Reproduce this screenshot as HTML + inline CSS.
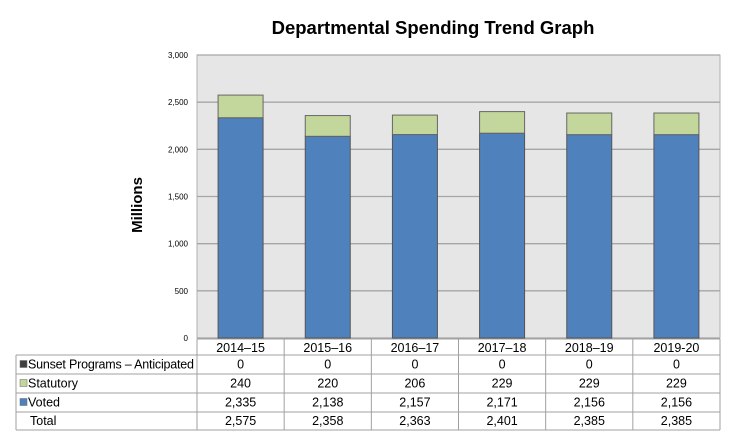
<!DOCTYPE html>
<html><head><meta charset="utf-8"><style>
body{margin:0;background:#fff;font-family:"Liberation Sans",Arial,sans-serif}
</style></head><body>
<svg id="c" width="739" height="440" xmlns="http://www.w3.org/2000/svg"></svg>
<script>
const categories=["2014–15","2015–16","2016–17","2017–18","2018–19","2019-20"];
const sunset=[0,0,0,0,0,0];
const statutory=[240,220,206,229,229,229];
const voted=[2335,2138,2157,2171,2156,2156];
const totals=[2575,2358,2363,2401,2385,2385];
const yTicks=[0,500,1000,1500,2000,2500,3000];
const NS="http://www.w3.org/2000/svg";
const svg=document.getElementById('c');
const L=197,R=720,T=55,B=338,tL=16;
const y=v=>B-(v/3000)*(B-T);
const slot=(R-L)/categories.length;
const x=i=>L+slot*i;
function mk(tag,attrs,txt){const e=document.createElementNS(NS,tag);for(const k in attrs)e.setAttribute(k,attrs[k]);if(txt!==undefined)e.textContent=txt;svg.appendChild(e);return e;}
let e=mk('text',{x:433,y:34,'text-anchor':'middle','font-size':18.5,'font-weight':'bold'},'Departmental Spending  Trend Graph');


e=mk('text',{x:0,y:0,'text-anchor':'middle','font-size':15,'font-weight':'bold',transform:'translate(142,205) rotate(-90)'},'Millions');


e=mk('rect',{x:L,y:T,width:R-L,height:B-T,fill:'#e6e6e6',stroke:'#b0b0b0'});


yTicks.forEach(v=>{
  let g=mk('line',{x1:L,x2:R,y1:y(v),y2:y(v),stroke:'#a6a6a6','stroke-width':1.3});
  
  
  let t=mk('text',{x:188,y:y(v)+3,'text-anchor':'end','font-size':8},v.toLocaleString('en-US'));
  
  
});
const bw=45;
categories.forEach((c,i)=>{
  const cx=x(i)+slot/2;
  let b=mk('rect',{x:cx-bw/2,y:y(voted[i]),width:bw,height:B-y(voted[i]),fill:'#4f81bd',stroke:'#555','stroke-width':1});
  
  
  b=mk('rect',{x:cx-bw/2,y:y(voted[i]+statutory[i]),width:bw,height:y(voted[i])-y(voted[i]+statutory[i]),fill:'#c3d69b',stroke:'#666','stroke-width':1});
  
  
  if(sunset[i]>0){b=mk('rect',{x:cx-bw/2,y:y(voted[i]+statutory[i]+sunset[i]),width:bw,height:y(voted[i]+statutory[i])-y(voted[i]+statutory[i]+sunset[i]),fill:'#404040'});
  
  }
});
const rows=[339,355,374,393,412,430];
const st={stroke:'#a0a0a0','stroke-width':1};
rows.forEach((ry,k)=>{let l=mk('line',Object.assign({x1:k==0?L:tL,x2:R,y1:ry,y2:ry},st));});
for(let i=0;i<=categories.length;i++){let l=mk('line',Object.assign({x1:x(i),x2:x(i),y1:339,y2:430},st));}
let l0=mk('line',Object.assign({x1:tL,x2:tL,y1:355,y2:430},st));
categories.forEach((c,i)=>{let t=mk('text',{x:x(i)+slot/2,y:352,'text-anchor':'middle','font-size':12.5},c);});
const series=[["Sunset Programs – Anticipated",sunset,'#404040'],["Statutory",statutory,'#c3d69b'],["Voted",voted,'#4f81bd'],["Total",totals,null]];
series.forEach((s,r)=>{
  const cy=(rows[r+1]+rows[r+2])/2+4;
  if(s[2]){let m=mk('rect',{x:20,y:cy-8,width:7,height:7,fill:s[2],stroke:'#666','stroke-width':0.5});}
  let t=mk('text',{x:s[2]?28:30,y:cy,'font-size':12.5,textLength:s[0].length>20?166:undefined},s[0]);
  if(s[0].length<=20)t.removeAttribute('textLength');
  
  
  s[1].forEach((v,i)=>{let tv=mk('text',{x:x(i)+slot/2,y:cy,'text-anchor':'middle','font-size':12.5},v.toLocaleString('en-US'));});
});
</script>
</body></html>
